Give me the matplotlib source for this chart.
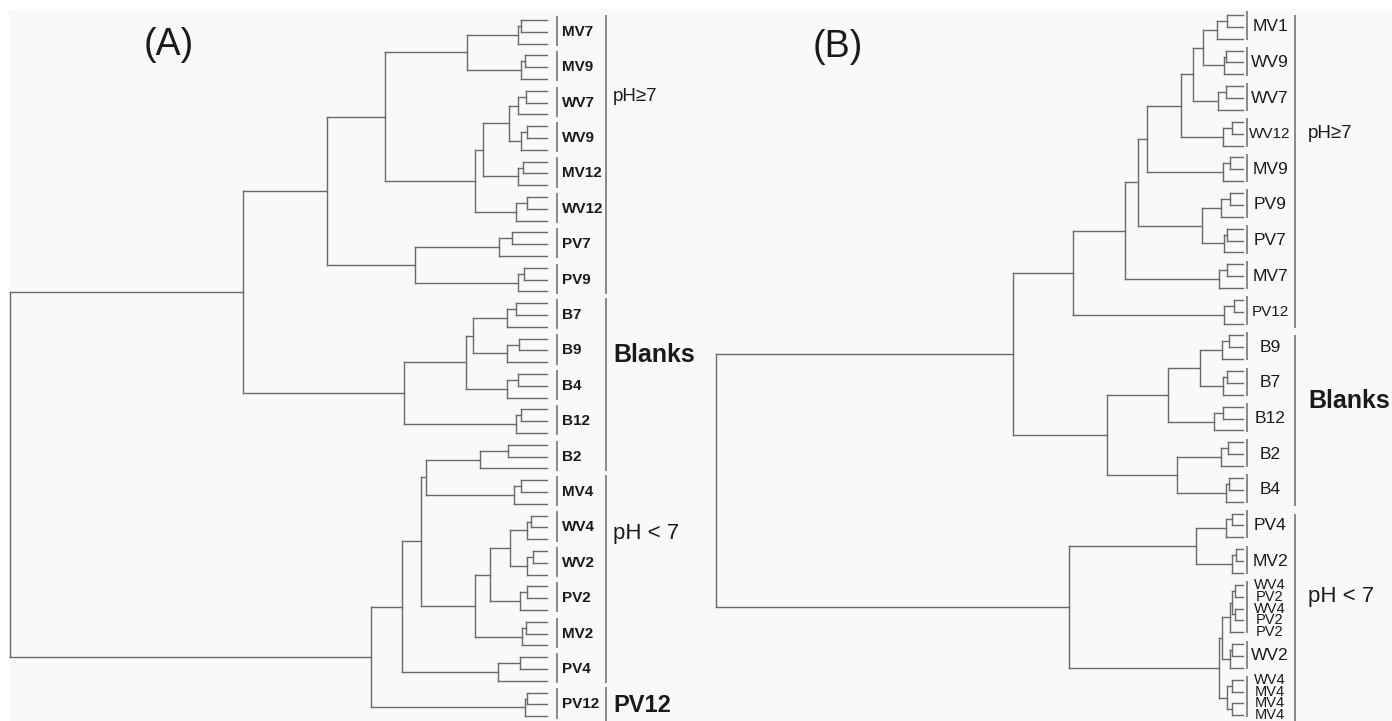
import matplotlib
matplotlib.use("Agg")
import matplotlib.pyplot as plt
from matplotlib.collections import LineCollection
from matplotlib.patches import Rectangle

plt.rcParams["font.family"] = ["Liberation Sans", "DejaVu Sans"]

# ---------------- panel A ----------------
A_groups = ["MV7", "MV9", "WV7", "WV9", "MV12", "WV12", "PV7", "PV9",
            "B7", "B9", "B4", "B12", "B2", "MV4", "WV4", "WV2", "PV2",
            "MV2", "PV4", "PV12"]
A_sizes = [3] * 20
# distance where replicates 1+2 join, then where replicate 3 joins
A_pair_h = [4.8, 4.1, 3.9, 3.7, 4.5, 3.7, 6.5, 4.3, 5.8, 5.2,
            5.4, 4.8, 7.3, 4.8, 3.0, 2.6, 3.7, 3.9, 5.0, 3.7]
A_trip_h = [5.4, 4.8, 5.4, 4.8, 5.4, 5.8, 8.9, 5.4, 7.4, 7.4,
            7.4, 5.8, 12.5, 6.1, 3.7, 3.7, 5.0, 4.7, 9.1, 4.1]
# (cluster, cluster, distance); new ids continue after the groups
A_link = [
    (0, 1, 14.9),     # 20 MV7+MV9
    (2, 3, 7.1),      # 21 WV7+WV9
    (21, 4, 11.9),    # 22 +MV12
    (22, 5, 13.4),    # 23 +WV12
    (20, 23, 30.2),   # 24
    (6, 7, 24.6),     # 25 PV7+PV9
    (24, 25, 41.0),   # 26
    (8, 9, 13.8),     # 27 B7+B9
    (27, 10, 15.1),   # 28 +B4
    (28, 11, 26.6),   # 29 +B12
    (26, 29, 56.6),   # 30
    (12, 13, 22.5),   # 31 B2+MV4
    (14, 15, 6.9),    # 32 WV4+WV2
    (32, 16, 10.6),   # 33 +PV2
    (33, 17, 13.4),   # 34 +MV2
    (31, 34, 23.5),   # 35
    (35, 18, 27.0),   # 36 +PV4
    (36, 19, 32.8),   # 37 +PV12
    (30, 37, 100.0),  # 38 root
]
A_sep_block = list(range(20))
A_class = ["pH≥7", "Blanks", "pH < 7", "PV12"]
A_class_first = [0, 8, 13, 19]
A_class_last = [7, 12, 18, 19]

# ---------------- panel B ----------------
B_groups = ["MV1", "WV9", "WV7", "WV12", "MV9", "PV9", "PV7", "MV7", "PV12",
            "B9", "B7", "B12", "B2", "B4", "PV4", "MV2",
            "WV4", "PV2", "WV4", "PV2", "PV2", "WV2", "WV4", "MV4", "MV4", "MV4"]
B_sizes = [3] * 16 + [1, 1, 1, 1, 1, 3, 1, 1, 1, 1]
B_pair_h = [3.0, 3.2, 3.2, 2.1, 2.5, 2.5, 3.0, 3.0, 1.7,
            2.6, 3.0, 3.8, 2.8, 2.7, 2.1, 1.3,
            0, 0, 0, 0, 0, 2.1, 0, 0, 0, 0]
B_trip_h = [4.9, 3.6, 4.7, 3.8, 3.8, 4.2, 3.6, 4.6, 3.6,
            4.0, 3.8, 5.5, 4.2, 3.2, 3.2, 2.1,
            0, 0, 0, 0, 0, 2.5, 0, 0, 0, 0]
B_link = [
    (0, 1, 7.6),      # 26 MV1+WV9
    (26, 2, 9.5),     # 27 +WV7
    (27, 3, 11.8),    # 28 +WV12
    (28, 4, 18.2),    # 29 +MV9
    (5, 6, 7.8),      # 30 PV9+PV7
    (29, 30, 19.9),   # 31
    (31, 7, 22.4),    # 32 +MV7
    (32, 8, 32.3),    # 33 +PV12
    (9, 10, 8.2),     # 34 B9+B7
    (34, 11, 14.2),   # 35 +B12
    (12, 13, 12.5),   # 36 B2+B4
    (35, 36, 25.8),   # 37
    (33, 37, 43.6),   # 38
    (14, 15, 8.9),    # 39 PV4+MV2
    (16, 17, 1.5),    # 40
    (18, 19, 1.5),    # 41
    (40, 41, 2.1),    # 42
    (42, 20, 2.5),    # 43
    (43, 21, 4.0),    # 44 +WV2
    (22, 23, 2.1),    # 45
    (24, 25, 2.1),    # 46
    (45, 46, 3.0),    # 47
    (44, 47, 4.6),    # 48
    (39, 48, 33.0),   # 49
    (38, 49, 100.0),  # 50 root
]
B_sep_block = list(range(16)) + [16] * 5 + [17] + [18] * 4
B_class = ["pH≥7", "Blanks", "pH < 7"]
B_class_first = [0, 9, 14]
B_class_last = [8, 13, 25]

W, H = 1392, 721
LINE = "#6a6a6a"

# pixel layout of each panel
LAYOUT = {
    "A": dict(left=0, right=700, tip=547, root=10, top=20, step=11.8,
              label_x=562, label_ha="left", label_kw=dict(fontsize=11, fontweight="bold"),
              sep_x=557, sep_pad=(-0.35, 0.2), brk_x=606, brk_pad=(-0.45, 0.2), txt_x=613,
              txt_y={"pH≥7": 6.5, "Blanks": 28.4, "pH < 7": 43.5, "PV12": 58.1},
              tag="(A)", tag_xy=(169, 45)),
    "B": dict(left=700, right=1392, tip=1243, root=716, top=15, step=11.87,
              label_x=1270, label_ha="center", label_kw=dict(fontsize=12.5),
              sep_x=1247, sep_pad=(-0.3, 0.1), brk_x=1295, brk_pad=(0.0, 0.4), txt_x=1308,
              txt_y={"pH≥7": 10.0, "Blanks": 32.5, "pH < 7": 49.0},
              tag="(B)", tag_xy=(838, 47)),
}
CLASS_STYLE = {
    "pH≥7": dict(fontsize=13.5),
    "Blanks": dict(fontsize=18, fontweight="bold"),
    "pH < 7": dict(fontsize=16),
    "PV12": dict(fontsize=17, fontweight="bold"),
}


def draw_tree(ax, sizes, pair_h, trip_h, link):
    segs, nodes, spans = [], [], []
    leaf = 0
    for n, p, t in zip(sizes, pair_h, trip_h):
        idx = list(range(leaf, leaf + n))
        leaf += n
        spans.append((idx[0], idx[-1]))
        if n == 1:
            nodes.append((idx[0], 0.0))
            continue
        i0, i1, i2 = idx
        py = (i0 + i1) / 2
        segs += [[(0, i0), (p, i0)], [(0, i1), (p, i1)], [(p, i0), (p, i1)],
                 [(p, py), (t, py)], [(0, i2), (t, i2)], [(t, py), (t, i2)]]
        nodes.append(((py + i2) / 2, t))
    for a, b, h in link:
        (ya, ha), (yb, hb) = nodes[a], nodes[b]
        segs += [[(ha, ya), (h, ya)], [(hb, yb), (h, yb)], [(h, ya), (h, yb)]]
        nodes.append(((ya + yb) / 2, h))
    ax.add_collection(LineCollection(segs, colors=LINE, linewidths=1.0,
                                     capstyle="projecting"))
    return spans


def panel(fig, key, groups, sizes, pair_h, trip_h, link, sep_block,
          cls, cls_first, cls_last):
    L = LAYOUT[key]
    ppu = (L["tip"] - L["root"]) / 100.0
    ax = fig.add_axes([L["left"] / W, 0, (L["right"] - L["left"]) / W, 1])
    ax.set_xlim((L["tip"] - L["left"]) / ppu, (L["tip"] - L["right"]) / ppu)
    ax.set_ylim((H - L["top"]) / L["step"], -L["top"] / L["step"])
    ax.axis("off")
    ax.patch.set_alpha(0)

    def hx(px):
        return (L["tip"] - px) / ppu

    spans = draw_tree(ax, sizes, pair_h, trip_h, link)

    # sample labels; single replicates are packed one per leaf row
    for name, n, (a, b) in zip(groups, sizes, spans):
        kw = dict(L["label_kw"])
        if key == "B" and n == 1:
            kw["fontsize"] = 10.5
        elif key == "B" and len(name) > 3:
            kw["fontsize"] = 11
        ax.text(hx(L["label_x"]), (a + b) / 2, name, ha=L["label_ha"],
                va="center", color="#1a1a1a", **kw)

    # short separators beside each label block
    for blk in sorted(set(sep_block)):
        members = [spans[i] for i, s in enumerate(sep_block) if s == blk]
        a, b = members[0][0], members[-1][1]
        ax.plot([hx(L["sep_x"])] * 2, [a + L["sep_pad"][0], b + L["sep_pad"][1]],
                color=LINE, lw=1.1, solid_capstyle="butt")

    # class brackets
    ylim_bottom = ax.get_ylim()[0]
    for j, (name, g0, g1) in enumerate(zip(cls, cls_first, cls_last)):
        y0 = spans[g0][0] + L["brk_pad"][0]
        y1 = spans[g1][1] + L["brk_pad"][1]
        if j == len(cls) - 1:
            y1 = ylim_bottom
        ax.plot([hx(L["brk_x"])] * 2, [y0, y1], color=LINE, lw=1.1,
                solid_capstyle="butt")
        ax.text(hx(L["txt_x"]), L["txt_y"][name], name, ha="left", va="center",
                color="#1a1a1a", **CLASS_STYLE[name])

    tx, ty = L["tag_xy"]
    fig.text(tx / W, 1 - ty / H, L["tag"], ha="center", va="center",
             fontsize=27, color="#1a1a1a")


fig = plt.figure(figsize=(W / 100, H / 100), dpi=100)
fig.patch.set_facecolor("white")
fig.add_artist(Rectangle((9 / W, 0), 1, (H - 10) / H, transform=fig.transFigure,
                         facecolor="#f9f9f9", edgecolor="none", zorder=0))

panel(fig, "A", A_groups, A_sizes, A_pair_h, A_trip_h, A_link, A_sep_block,
      A_class, A_class_first, A_class_last)
panel(fig, "B", B_groups, B_sizes, B_pair_h, B_trip_h, B_link, B_sep_block,
      B_class, B_class_first, B_class_last)

fig.savefig("out.png", dpi=100, facecolor=fig.get_facecolor())
